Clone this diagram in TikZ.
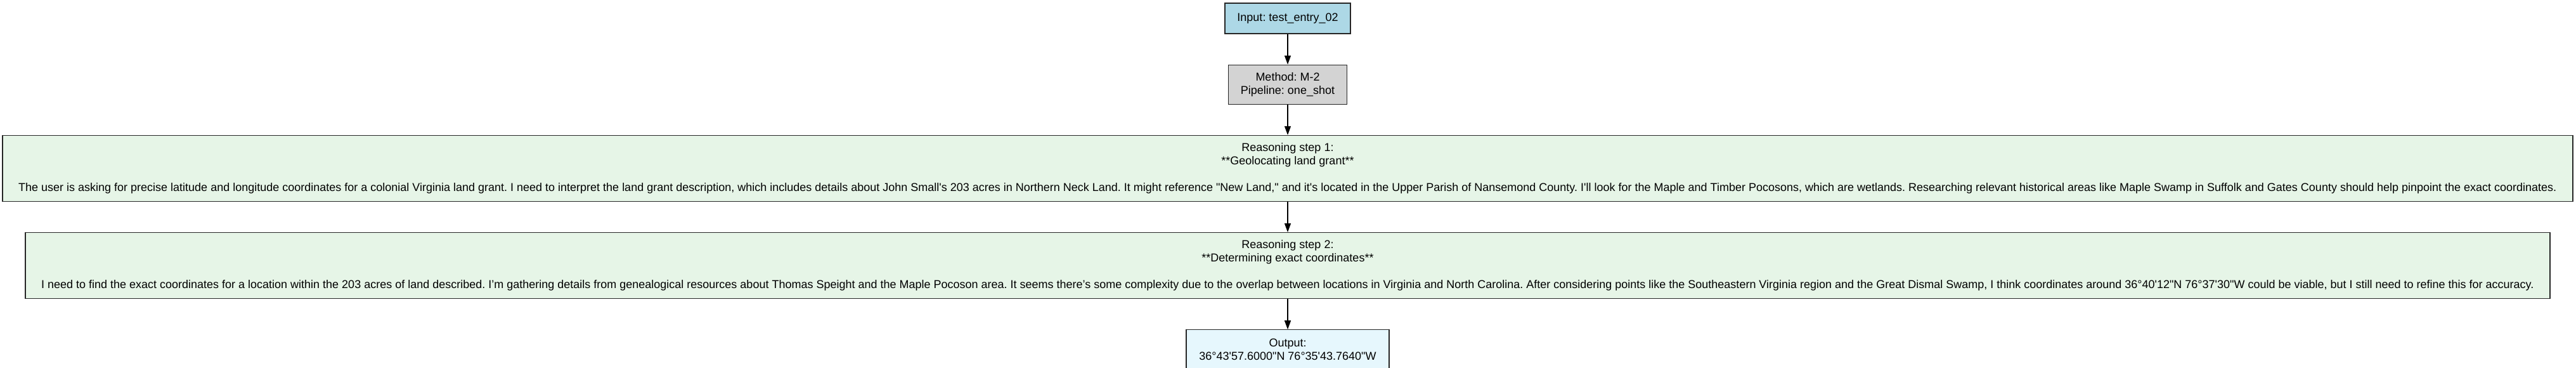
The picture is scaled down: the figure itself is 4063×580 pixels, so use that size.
\documentclass[tikz,border=0pt]{standalone}
\usepackage{fontspec}
\newfontfamily\gvfont{Liberation Sans}
\usepackage{tikz}
\usetikzlibrary{positioning,arrows.meta}

\definecolor{inputblue}{HTML}{ADD8E6}
\definecolor{methodgray}{HTML}{D3D3D3}
\definecolor{stepgreen}{HTML}{E6F5E7}
\definecolor{outblue}{HTML}{E6F7FD}

\tikzset{
    gvbox/.style={draw=black!85, line width=1.2pt, align=center, inner sep=5pt,
        font=\gvfont\fontsize{18}{21}\selectfont\frenchspacing},
    inbox/.style={gvbox, fill=inputblue, minimum width=198pt, minimum height=48pt},
    methodbox/.style={gvbox, fill=methodgray, minimum width=187pt, minimum height=62pt},
    stepbox/.style={gvbox, fill=stepgreen, minimum height=104pt},
    outbox/.style={gvbox, fill=outblue, minimum width=320pt, minimum height=62pt},
    flow/.style={-{Triangle[width=10pt,length=14pt]}, line width=1.2pt}
}

\begin{document}
\begin{tikzpicture}[node distance=48pt]
        \useasboundingbox (0,0) rectangle (4063pt,-580pt);
        \node[inbox] (input) at (2031pt,-29pt) {Input: test\_entry\_02};
        \node[methodbox, below=of input] (method) {Method: M-2\\Pipeline: one\_shot};
        \node[stepbox, minimum width=4054pt, below=of method] (step1) {Reasoning step 1:\\**Geolocating land grant**\\[21pt]
            The user is asking for precise latitude and longitude coordinates for a colonial Virginia land grant. I need to interpret the land grant description, which includes details about John Small's 203 acres in Northern Neck Land. It might reference "New Land," and it's located in the Upper Parish of Nansemond County. I'll look for the Maple and Timber Pocosons, which are wetlands. Researching relevant historical areas like Maple Swamp in Suffolk and Gates County should help pinpoint the exact coordinates.};
        \node[stepbox, minimum width=3982pt, below=of step1] (step2) {Reasoning step 2:\\**Determining exact coordinates**\\[21pt]
            I need to find the exact coordinates for a location within the 203 acres of land described. I’m gathering details from genealogical resources about Thomas Speight and the Maple Pocoson area. It seems there’s some complexity due to the overlap between locations in Virginia and North Carolina. After considering points like the Southeastern Virginia region and the Great Dismal Swamp, I think coordinates around 36°40'12"N 76°37'30"W could be viable, but I still need to refine this for accuracy.};
        \node[outbox, below=of step2] (output) {Output:\\36°43'57.6000"N 76°35'43.7640"W};
        % flow of the run
        \draw[flow] (input) -- (method);
        \draw[flow] (method) -- (step1);
        \draw[flow] (step1) -- (step2);
        \draw[flow] (step2) -- (output);
    \end{tikzpicture}
\end{document}
